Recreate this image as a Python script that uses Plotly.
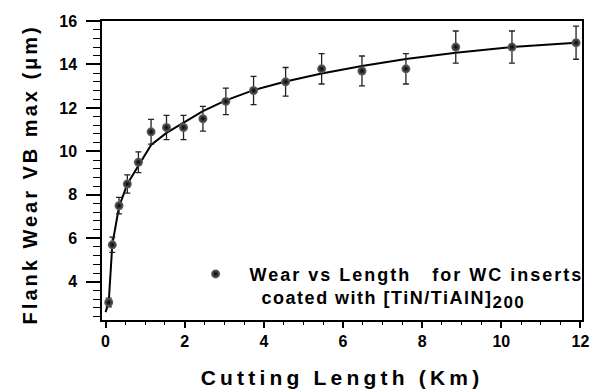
import plotly.graph_objects as go

# measured points
length_km = [0.08, 0.17, 0.34, 0.55, 0.83, 1.15, 1.54, 1.97, 2.46, 3.04, 3.74,
             4.55, 5.46, 6.48, 7.59, 8.85, 10.27, 11.89]
wear_um = [3.05, 5.7, 7.5, 8.5, 9.5, 10.9, 11.1, 11.1, 11.5, 12.3, 12.8,
           13.2, 13.8, 13.7, 13.8, 14.8, 14.8, 15.0]
wear_err = [0.2, 0.35, 0.38, 0.42, 0.48, 0.57, 0.56, 0.56, 0.57, 0.61, 0.65,
            0.66, 0.7, 0.69, 0.7, 0.74, 0.74, 0.76]

# fitted curve
fit_x = [0.0, 0.08, 0.17, 0.34, 0.55, 0.83, 1.15, 1.54, 1.97, 2.46, 3.04, 3.74,
         4.55, 5.46, 6.48, 7.59, 8.85, 10.27, 11.89]
fit_y = [2.6, 3.05, 5.7, 7.45, 8.5, 9.35, 10.3, 10.85, 11.3, 11.85, 12.35, 12.82,
         13.22, 13.58, 13.93, 14.25, 14.54, 14.8, 15.0]

x_ticks = [0, 2, 4, 6, 8, 10, 12]
y_ticks = [4, 6, 8, 10, 12, 14, 16]

FONT = "Liberation Sans, Arial, sans-serif"
LS1 = '<span style="letter-spacing:2px">'
LS2 = '<span style="letter-spacing:1.5px">'

fig = go.Figure()
fig.add_trace(go.Scatter(
    x=fit_x, y=fit_y, mode="lines",
    line=dict(color="black", width=2),
    showlegend=False, hoverinfo="skip"))
fig.add_trace(go.Scatter(
    x=length_km, y=wear_um, mode="markers",
    name=("<b>" + LS1 + "  Wear vs Length   for WC inserts</span><br>"
          + LS2 + "    coated with [TiN/TiAlN]</span><sub><span style=\"font-size:17px;letter-spacing:1.5px\">200</span></sub></b>"),
    marker=dict(size=9, color="#6a6a6a", symbol="circle",
                gradient=dict(type="radial", color="black"),
                line=dict(width=0)),
    error_y=dict(type="data", array=wear_err, visible=True,
                 color="#222", thickness=1.3, width=3)))

fig.update_layout(
    width=591, height=390,
    margin=dict(l=102, r=8.5, t=20.5, b=70, autoexpand=False),
    paper_bgcolor="white", plot_bgcolor="white",
    font=dict(family=FONT, color="black"),
    legend=dict(x=0.195, y=0.215, xanchor="left", yanchor="top",
                bgcolor="rgba(0,0,0,0)", borderwidth=0,
                font=dict(size=18, family=FONT, color="black"),
                valign="top", itemwidth=30),
    annotations=[dict(
        text="<b><span style=\"letter-spacing:3px\">Flank Wear VB max (μm)</span></b>",
        xref="paper", yref="paper", x=-0.15, y=0.487,
        xanchor="center", yanchor="middle", textangle=-90, showarrow=False,
        font=dict(size=20, family=FONT, color="black"))],
)
fig.update_xaxes(
    range=[-0.09, 12.04], tickvals=x_ticks,
    ticktext=[f"<b>{v}</b>" for v in x_ticks],
    ticks="outside", ticklen=6, tickwidth=1.5, tickcolor="black",
    showline=True, linewidth=1.5, linecolor="black", mirror=True,
    showgrid=False, zeroline=False,
    tickfont=dict(size=16, family=FONT),
    minor=dict(dtick=0.5, tick0=0, ticks="outside", ticklen=3, tickwidth=1.2,
               tickcolor="black", showgrid=False),
    title=dict(text="<b><span style=\"letter-spacing:4.2px\">Cutting Length (Km)</span></b>",
               font=dict(size=21, family=FONT), standoff=21),
)
fig.update_yaxes(
    range=[2.24, 16], tickvals=y_ticks,
    ticktext=[f"<b>{v}</b>" for v in y_ticks],
    ticks="outside", ticklen=14, tickwidth=1.5, tickcolor="black",
    showline=True, linewidth=1.5, linecolor="black", mirror=True,
    showgrid=False, zeroline=False,
    tickfont=dict(size=16, family=FONT),
    ticklabelstandoff=6,
    minor=dict(dtick=0.4, tick0=0, ticks="outside", ticklen=7, tickwidth=1.2,
               tickcolor="black", showgrid=False),
)

fig.write_html("out.html")
